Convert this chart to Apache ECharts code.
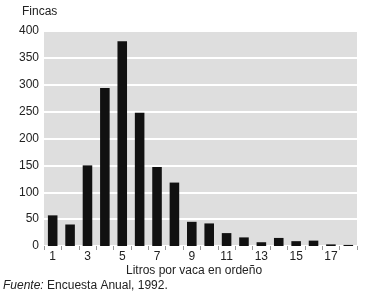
<!DOCTYPE html>
<html><head><meta charset="utf-8">
<script src="https://cdn.jsdelivr.net/npm/echarts@6/dist/echarts.min.js"></script>
<style>html,body{margin:0;padding:0;background:#fff}#c{width:369px;height:295px}</style>
</head><body><div id="c"></div>
<script>
const categories = ['1','2','3','4','5','6','7','8','9','10','11','12','13','14','15','16','17','18'];
const fincas = [57, 40, 150, 294, 381, 248, 147, 118, 45, 42, 24, 16, 7, 15, 9, 10, 3, 2];
const yTicks = [0, 50, 100, 150, 200, 250, 300, 350, 400];
const yTitle = 'Fincas';
const xTitle = 'Litros por vaca en ordeño';
const sourceLabel = 'Fuente:';
const sourceText = ' Encuesta Anual, 1992.';

const chart = echarts.init(document.getElementById('c'), null, {renderer: 'canvas'});
const font = '"Liberation Sans", Arial, sans-serif';
chart.setOption({
  animation: false,
  textStyle: {fontFamily: font},
  grid: {left: 44, right: 12, top: 31, bottom: 49, show: true, backgroundColor: '#dedede', borderWidth: 0},
  graphic: [
    {type: 'text', left: 22, top: 6, style: {text: yTitle, font: '12px ' + font, fill: '#222'}},
    {type: 'text', left: 126, top: 265, style: {text: xTitle, font: '12px ' + font, fill: '#222'}},
    {type: 'text', left: 3, top: 280, style: {rich: {i: {fontStyle: 'italic', fontSize: 12, fontFamily: font, fill: '#222'}, n: {fontSize: 12, fontFamily: font, fill: '#222'}}, text: '{i|' + sourceLabel + '}{n|' + sourceText + '}'}}
  ],
  xAxis: {
    type: 'category', data: categories,
    axisLine: {show: false},
    axisTick: {show: true, alignWithLabel: false, interval: 0, length: 4, lineStyle: {color: '#999', width: 1}},
    axisLabel: {interval: 1, color: '#222', fontSize: 12, margin: 5, fontFamily: font}
  },
  yAxis: {
    type: 'value', min: yTicks[0], max: yTicks[yTicks.length-1], interval: 50,
    axisLine: {show: false}, axisTick: {show: false},
    axisLabel: {color: '#222', fontSize: 12, margin: 5, fontFamily: font},
    splitLine: {show: true, lineStyle: {color: '#ffffff', width: 2}}
  },
  series: [{
    type: 'bar', data: fincas, barWidth: '55%',
    itemStyle: {color: '#111'}
  }]
});
</script></body></html>
